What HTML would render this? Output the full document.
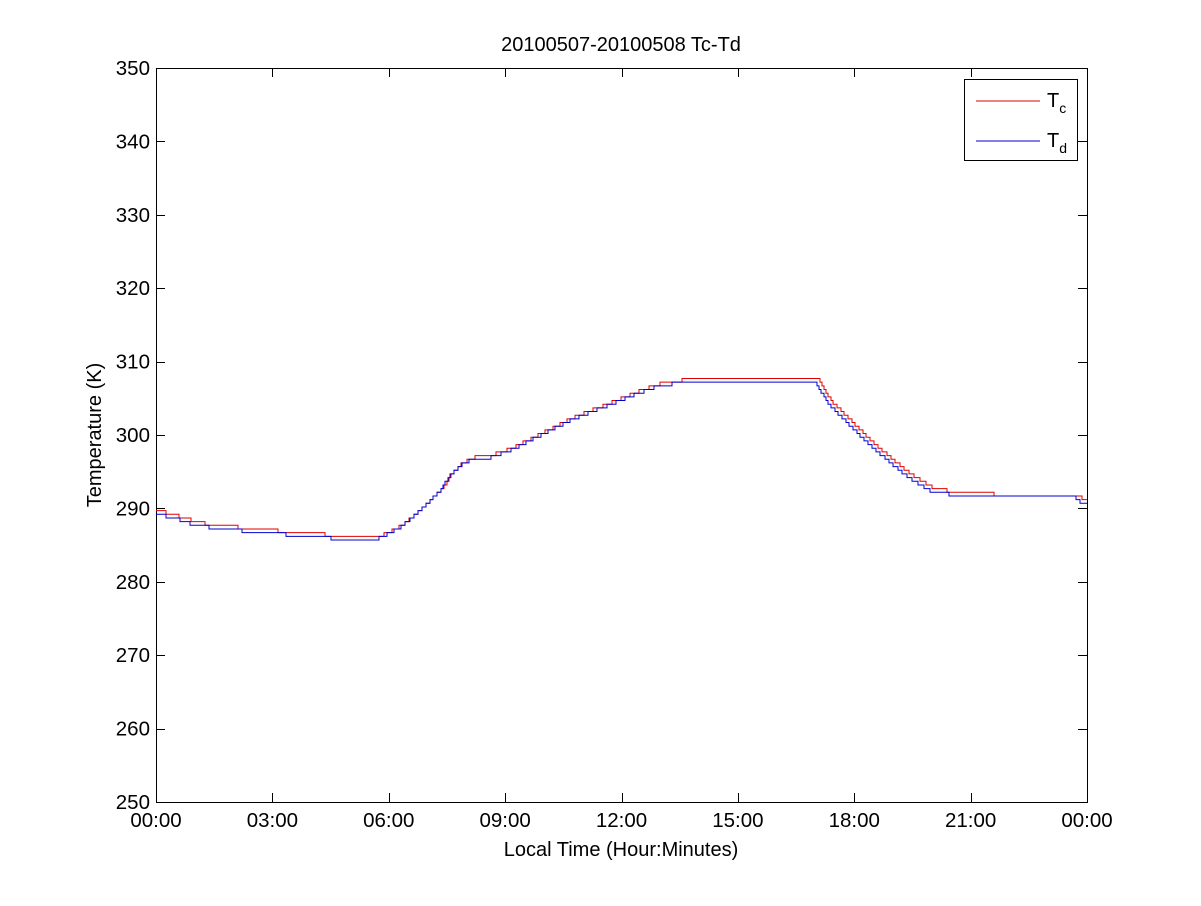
<!DOCTYPE html>
<html><head><meta charset="utf-8"><style>
body{margin:0;background:#fff;}
svg text{font-family:"Liberation Sans",Arial,sans-serif;}
</style></head><body>
<svg id="s" width="1201" height="901" xmlns="http://www.w3.org/2000/svg">
<rect width="1201" height="901" fill="#fff"/>
<text x="621" y="51" font-size="20" text-anchor="middle">20100507-20100508 Tc-Td</text>
<g id="ax" stroke="#000" stroke-width="1" fill="none">
<rect x="156.5" y="68.5" width="931" height="734"/>
</g>
<g id="lab" font-size="20.5"></g>
<text x="621" y="856" font-size="20" text-anchor="middle">Local Time (Hour:Minutes)</text>
<text transform="translate(101,435) rotate(-90)" font-size="20" text-anchor="middle">Temperature (K)</text>
<path id="red" fill="none" stroke="#e00000" stroke-width="1"/>
<path id="blue" fill="none" stroke="#0000d0" stroke-width="1"/>
<rect x="964.5" y="79.5" width="113" height="81" fill="#fff" stroke="#000"/>
<line x1="976" y1="101" x2="1040" y2="101" stroke="#e00000"/>
<line x1="976" y1="141" x2="1040" y2="141" stroke="#0000d0"/>
<text x="1047" y="107" font-size="20">T<tspan font-size="14" dy="6">c</tspan></text>
<text x="1047" y="147" font-size="20">T<tspan font-size="14" dy="6">d</tspan></text>
</svg>
<script>
var ax=document.getElementById('ax'),lab=document.getElementById('lab');
for(var i=0;i<=10;i++){var y=802-i*73.4;var yy=Math.round(y)+.5;
ax.innerHTML+='<line x1="156" y1="'+yy+'" x2="165" y2="'+yy+'"/><line x1="1078" y1="'+yy+'" x2="1087" y2="'+yy+'"/>';
lab.innerHTML+='<text x="150" y="'+(y+7)+'" text-anchor="end">'+(250+i*10)+'</text>';}
var tl=["00:00","03:00","06:00","09:00","12:00","15:00","18:00","21:00","00:00"];
for(var i=0;i<=8;i++){var x=156+i*116.375;var xx=Math.round(x)+.5;
ax.innerHTML+='<line x1="'+xx+'" y1="802" x2="'+xx+'" y2="793"/><line x1="'+xx+'" y1="68" x2="'+xx+'" y2="77"/>';
lab.innerHTML+='<text x="'+x+'" y="827" text-anchor="middle">'+tl[i]+'</text>';}
var k=[[156,513],[170,517],[182,520],[195,525],[220,528],[258,532],[300,535],[335,538],[372,540],[385,535],[400,527],[420,510],[440,490],[450,475],[460,465],[470,460],[490,457],[510,450],[530,440],[550,430],[570,420],[600,408],[620,400],[640,392],[660,385],[700,380],[815,380],[820,390],[830,405],[850,425],[870,445],[890,462],[910,478],[930,490],[950,494],[1000,497],[1075,497],[1080,501],[1087,501]];
function f(x){for(var i=0;i<k.length-1;i++){if(x<=k[i+1][0]){var t=(x-k[i][0])/(k[i+1][0]-k[i][0]);return k[i][1]+t*(k[i+1][1]-k[i][1]);}}return k[k.length-1][1];}
function build(off,dx,fn){var d="",py=null;for(var x=156;x<=1087;x++){var y=fn(f(x-dx)+off);if(py===null)d="M"+x+","+y;else if(y!==py)d+="L"+x+","+py+"L"+x+","+y;py=y;}d+="L1087,"+py;return d;}
document.getElementById('blue').setAttribute('d',build(0,0,function(v){return Math.round(v/3.67)*3.67+.5;}));
document.getElementById('red').setAttribute('d',build(-1,3,function(v){return Math.floor(v/3.67)*3.67+.5;}));
</script>
</body></html>
